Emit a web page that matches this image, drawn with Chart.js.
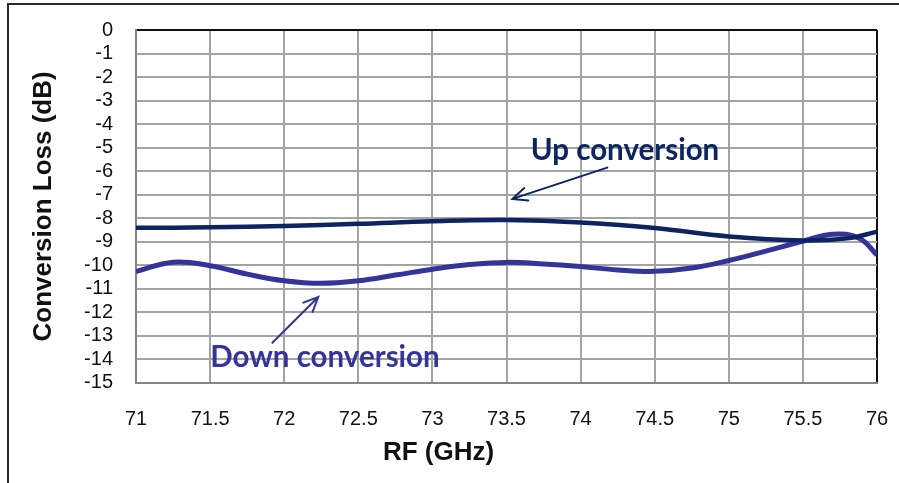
<!DOCTYPE html>
<html>
<head>
<meta charset="utf-8">
<style>
  html, body { margin: 0; padding: 0; background: #fff; overflow: hidden; }
  #wrap { position: relative; width: 899px; height: 483px; }
  #frame { position: absolute; left: 7px; top: 3px; width: 900px; height: 490px; border: 2px solid #2a2a2a; box-sizing: border-box; }
  canvas { position: absolute; left: 0; top: 0; }
</style>
<script src="https://cdn.jsdelivr.net/npm/chart.js@4.4.1/dist/chart.umd.min.js"></script>
</head>
<body>
<div id="wrap">
  <div id="frame"></div>
  <canvas id="c" width="899" height="483"></canvas>
</div>
<script>
// RF frequency (GHz) and conversion loss (dB) for each direction
const upFreq = [71, 71.5, 72, 72.5, 73, 73.5, 74, 74.5, 75, 75.5, 75.8, 76];
const upLoss = [-8.41, -8.39, -8.33, -8.24, -8.13, -8.08, -8.18, -8.42, -8.78, -8.95, -8.86, -8.58];

const downFreq = [71, 71.25, 71.5, 71.75, 72, 72.25, 72.5, 72.75, 73, 73.25, 73.5, 73.75, 74, 74.25, 74.5, 74.75, 75, 75.25, 75.5, 75.7, 75.88, 76];
const downLoss = [-10.27, -9.87, -10.02, -10.38, -10.66, -10.77, -10.66, -10.42, -10.17, -9.97, -9.88, -9.95, -10.06, -10.2, -10.26, -10.12, -9.8, -9.4, -8.98, -8.68, -8.85, -9.56];

// Axis tick values
const xTicks = [71, 71.5, 72, 72.5, 73, 73.5, 74, 74.5, 75, 75.5, 76];
const yTicks = [0, -1, -2, -3, -4, -5, -6, -7, -8, -9, -10, -11, -12, -13, -14, -15];

// Callout labels with arrows, placed in data coordinates (GHz, dB)
const callouts = [
  { text: 'Up conversion', color: '#0c2461', at: [74.30, -5.12], from: [74.18, -5.85], to: [73.54, -7.18] },
  { text: 'Down conversion', color: '#34349a', at: [72.275, -13.94], from: [71.92, -13.3], to: [72.23, -11.35] }
];

const UP_COLOR = '#0c2461';
const DOWN_COLOR = '#34349a';

function toPoints(xs, ys) {
  return xs.map((x, i) => ({ x: x, y: ys[i] }));
}

const calloutPlugin = {
  id: 'callouts',
  afterDatasetsDraw(chart) {
    const ctx = chart.ctx;
    const xs = chart.scales.x, ys = chart.scales.y;
    callouts.forEach(c => {
      const tx = xs.getPixelForValue(c.at[0]), ty = ys.getPixelForValue(c.at[1]);
      const x1 = xs.getPixelForValue(c.from[0]), y1 = ys.getPixelForValue(c.from[1]);
      const x2 = xs.getPixelForValue(c.to[0]), y2 = ys.getPixelForValue(c.to[1]);
      ctx.save();
      ctx.strokeStyle = c.color;
      ctx.lineWidth = 2;
      ctx.lineCap = 'round';
      ctx.beginPath();
      ctx.moveTo(x1, y1);
      ctx.lineTo(x2, y2);
      const ang = Math.atan2(y1 - y2, x1 - x2);
      const len = 16, spread = 0.42;
      ctx.moveTo(x2 + len * Math.cos(ang + spread), y2 + len * Math.sin(ang + spread));
      ctx.lineTo(x2, y2);
      ctx.lineTo(x2 + len * Math.cos(ang - spread), y2 + len * Math.sin(ang - spread));
      ctx.stroke();
      ctx.fillStyle = c.color;
      ctx.font = 'bold 29.5px Lato, "Open Sans", sans-serif';
      ctx.textAlign = 'center';
      ctx.textBaseline = 'middle';
      ctx.fillText(c.text, tx, ty);
      ctx.restore();
    });
  }
};

const gridColor = '#a3a3a3';
const axisFont = '"Liberation Sans", Arial, sans-serif';

new Chart(document.getElementById('c'), {
  type: 'line',
  data: {
    datasets: [
      {
        label: 'Up conversion',
        data: toPoints(upFreq, upLoss),
        borderColor: UP_COLOR,
        borderWidth: 4.5,
        pointRadius: 0,
        tension: 0.4,
        fill: false
      },
      {
        label: 'Down conversion',
        data: toPoints(downFreq, downLoss),
        borderColor: DOWN_COLOR,
        borderWidth: 5,
        pointRadius: 0,
        tension: 0.4,
        fill: false
      }
    ]
  },
  options: {
    responsive: false,
    animation: false,
    events: [],
    layout: { padding: { top: 30, right: 22, bottom: 0, left: 0 } },
    plugins: {
      legend: { display: false },
      tooltip: { enabled: false },
      // x-axis caption, centred across the full chart width
      title: {
        display: true,
        position: 'bottom',
        text: 'RF (GHz)',
        color: '#111',
        font: { family: axisFont, size: 26, weight: 'bold' },
        padding: { top: 0, bottom: 15 }
      }
    },
    scales: {
      x: {
        type: 'linear',
        min: 71,
        max: 76,
        afterBuildTicks(scale) { scale.ticks = xTicks.map(v => ({ value: v })); },
        afterFit(scale) { scale.height = 54; scale.paddingLeft = 0; scale.paddingRight = 0; },
        grid: {
          color: ctx => (ctx.tick && ctx.tick.value === 76 ? '#111' : gridColor),
          lineWidth: 2,
          drawTicks: false
        },
        border: { color: '#858585', width: 2 },
        ticks: {
          color: '#111',
          font: { family: axisFont, size: 20 },
          padding: 25,
          maxRotation: 0,
          autoSkip: false,
          callback: v => String(v)
        }
      },
      y: {
        type: 'linear',
        min: -15,
        max: 0,
        afterBuildTicks(scale) { scale.ticks = yTicks.map(v => ({ value: v })); },
        afterFit(scale) { scale.width = 136; scale.paddingTop = 0; scale.paddingBottom = 0; },
        grid: {
          color: ctx => (ctx.tick && ctx.tick.value === 0 ? '#111' : gridColor),
          lineWidth: 2,
          drawTicks: false
        },
        border: { color: '#858585', width: 2 },
        ticks: {
          color: '#111',
          font: { family: axisFont, size: 20 },
          padding: 23,
          autoSkip: false,
          callback: v => String(v)
        },
        title: {
          display: true,
          text: 'Conversion Loss (dB)',
          color: '#111',
          font: { family: axisFont, size: 26, weight: 'bold' },
          padding: { top: 28, bottom: 0 }
        }
      }
    }
  },
  plugins: [calloutPlugin]
});
</script>
</body>
</html>
